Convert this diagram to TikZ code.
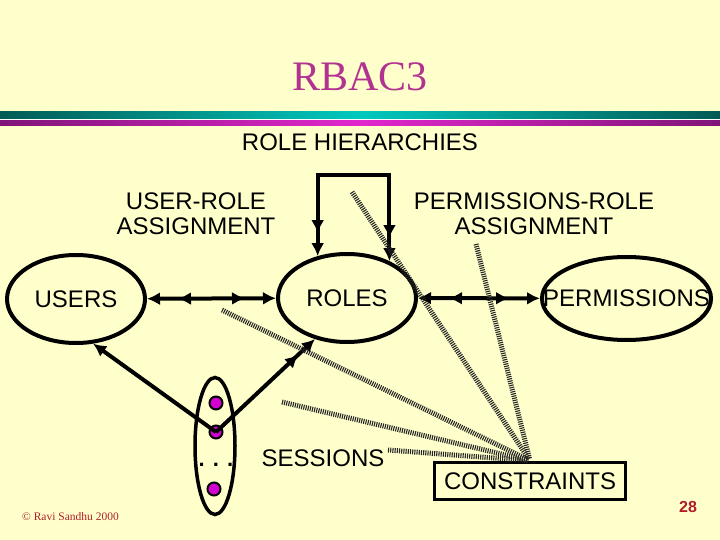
\documentclass[tikz,border=0pt]{standalone}
\usepackage{fontspec}
\setmainfont{Liberation Sans}
\newfontfamily\serifface{Liberation Serif}
\usetikzlibrary{arrows.meta,shapes.geometric}

\definecolor{slidebg}{RGB}{255,255,204}
\definecolor{titlemag}{RGB}{178,50,146}
\definecolor{darkteal}{RGB}{0,90,85}
\definecolor{brightteal}{RGB}{0,200,190}
\definecolor{darkmag}{RGB}{128,20,120}
\definecolor{brightmag}{RGB}{225,40,205}
\definecolor{dotmag}{RGB}{210,0,210}
\definecolor{credred}{RGB}{175,30,40}

\begin{document}
\begin{tikzpicture}[x=1pt,y=-1pt,
  lbl/.style={font=\fontsize{24}{25}\selectfont,inner sep=0pt,align=center},
  oval/.style={ellipse,draw,line width=4pt,inner sep=0pt},
  dot/.style={circle,draw,line width=2pt,fill=dotmag,minimum size=13pt,inner sep=0pt},
  link/.style={line width=4pt},
  onearrow/.style={-{Latex[length=13pt,width=13pt]}},
  tomanyarrow/.style={-{Latex[length=13pt,width=13pt,sep=#1]Latex[length=13pt,width=13pt]}},
  mmarrow/.style={{Latex[length=13pt,width=13pt]Latex[length=13pt,width=13pt,sep=#1]}-{Latex[length=13pt,width=13pt,sep=#1]Latex[length=13pt,width=13pt]}},
  hatch/.style={line width=5pt,black!85,dash pattern=on 1.1pt off 1.1pt}]
  \fill[slidebg] (0,0) rectangle (720,540);
  % title and bands
  \node[text=titlemag,font=\serifface\fontsize{42}{42}\selectfont,inner sep=0pt] (title) at (360,77) {RBAC3};
  \shade[left color=darkteal,right color=darkteal,middle color=brightteal] (0,112) rectangle (720,119.5);
  \fill[white] (0,119.5) rectangle (720,121);
  \shade[left color=darkmag,right color=darkmag,middle color=brightmag] (0,121) rectangle (720,125.5);

  % labels
  \node[lbl] (hier) at (360,142) {ROLE HIERARCHIES};
  \node[lbl] (ura) at (196,214) {USER-ROLE\\ASSIGNMENT};
  \node[lbl] (pra) at (534,214) {PERMISSIONS-ROLE\\ASSIGNMENT};

  % the three sets
  \node[oval,lbl,minimum width=138pt,minimum height=88pt] (users) at (76,299) {USERS};
  \node[oval,lbl,minimum width=138pt,minimum height=88pt] (roles) at (347,298) {ROLES};
  \node[oval,lbl,minimum width=169pt,minimum height=83pt] (perms) at (626.5,298.5) {\makebox[0pt]{PERMISSIONS}};

  % sessions
  \node[oval,line width=3.5pt,minimum width=40pt,minimum height=137pt] (sess) at (215,446) {};
  \node[dot] (s1) at (216,403) {};
  \node[dot] (s2) at (216,432) {};
  \node[dot] (s3) at (214,489) {};
  \node[font=\bfseries\fontsize{22}{22}\selectfont,inner sep=0pt] (sdots) at (216,465) {. . .};
  \node[lbl] (sesslbl) at (323,458) {SESSIONS};

  \node[lbl,draw,line width=3.5pt,minimum width=191pt,minimum height=37pt] (cons) at (530,481) {CONSTRAINTS};

  \node[font=\bfseries\fontsize{16}{16}\selectfont,text=credred,inner sep=0pt] (page) at (688,507) {28};
  \node[font=\serifface\fontsize{11.5}{12}\selectfont,text=credred,inner sep=0pt,anchor=west] (credit) at (22,517) {© Ravi Sandhu 2000};

  % assignments and hierarchy
  \coordinate (hitop) at (354,175);
  \draw[link,mmarrow=18pt] (users) -- (roles);
  \draw[link,mmarrow=18pt] (roles) -- (perms);
  \draw[link,mmarrow=10pt] (roles.125) |- (hitop) -| (roles.41);
  \draw[link,onearrow] (s2.center) -- (users.-69);
  \draw[link,tomanyarrow=10pt] (s2.center) -- (roles.-128);

  % constraint lines
  \coordinate (c1) at (352,192);
  \coordinate (c2) at (476,244);
  \coordinate (c3) at (222,310);
  \coordinate (c4) at (282,402);
  \coordinate (c5) at (388,450);
  \foreach \c in {c1,c2,c3,c4,c5}
    \draw[hatch,shorten >=1.75pt] (\c) -- (cons.north);
\end{tikzpicture}
\end{document}
